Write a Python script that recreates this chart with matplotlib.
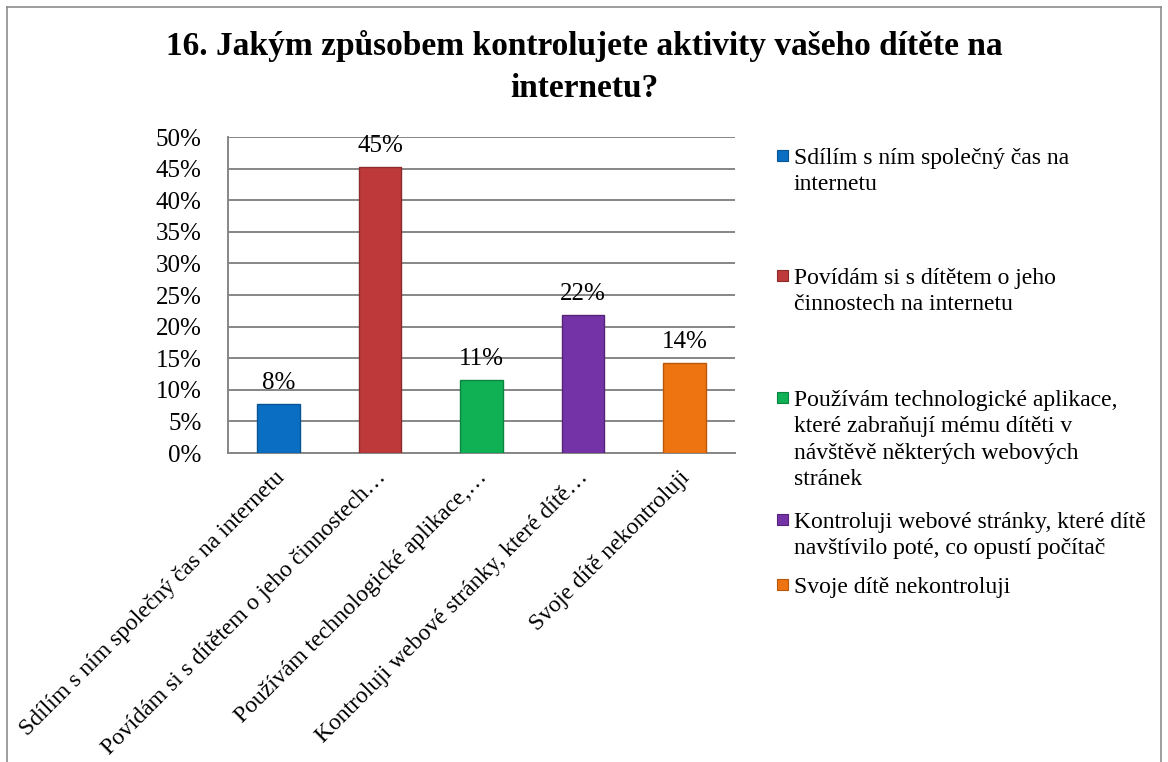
import matplotlib
matplotlib.use("Agg")
import matplotlib.pyplot as plt
import matplotlib.transforms as mtransforms
from matplotlib.patches import Rectangle
from matplotlib.lines import Line2D
from matplotlib.ticker import PercentFormatter

# data
categories = ["Sdílím s ním společný čas na internetu",
              "Povídám si s dítětem o jeho činnostech na internetu",
              "Používám technologické aplikace, které zabraňují mému dítěti v návštěvě některých webových stránek",
              "Kontroluji webové stránky, které dítě navštívilo poté, co opustí počítač",
              "Svoje dítě nekontroluji"]
tick_labels = ["Sdílím s ním společný čas na internetu",
               "Povídám si s dítětem o jeho činnostech…",
               "Používám technologické aplikace,…",
               "Kontroluji webové stránky, které dítě…",
               "Svoje dítě nekontroluji"]
legend_labels = ["Sdílím s ním společný čas na\ninternetu",
                 "Povídám si s dítětem o jeho\nčinnostech na internetu",
                 "Používám technologické aplikace,\nkteré zabraňují mému dítěti v\nnávštěvě některých webových\nstránek",
                 "Kontroluji webové stránky, které dítě\nnavštívilo poté, co opustí počítač",
                 "Svoje dítě nekontroluji"]
values = [0.078, 0.453, 0.115, 0.218, 0.142]
value_labels = ["8%", "45%", "11%", "22%", "14%"]
colors = ["#0A6FC2", "#BE3A3A", "#10B055", "#7433A6", "#EE7412"]
edge_colors = ["#075594", "#8E2A2A", "#0B8341", "#552479", "#B8580C"]

plt.rcParams['font.family'] = ['Liberation Serif', 'DejaVu Serif']

fig = plt.figure(figsize=(11.68, 7.62), dpi=100)
W, H = 1168, 762

# chart border
for xs, ys in [([7, 7], [0, 755]), ([7, 1161], [755, 755]), ([1161, 1161], [755, 0])]:
    fig.add_artist(Line2D([x / W for x in xs], [y / H for y in ys], color="#8c8c8c", lw=1.2))

ax = fig.add_axes([228 / W, 1 - 453 / H, 507 / W, 316 / H])
x = range(len(values))
bars = ax.bar(x, values, width=0.42, color=colors, edgecolor=edge_colors, linewidth=1, zorder=3)

for i, b in enumerate(bars):
    ax.text(b.get_x() + b.get_width() / 2, values[i] + 0.016, value_labels[i],
            ha="center", va="bottom", fontsize=18, zorder=4)

ax.set_xlim(-0.5, len(values) - 0.5)
ax.set_ylim(0, 0.5)
ax.set_yticks([i * 0.05 for i in range(11)])
ax.yaxis.set_major_formatter(PercentFormatter(1.0, decimals=0))
ax.grid(axis="y", color="#868686", lw=1.4, zorder=0)
ax.set_axisbelow(True)
for s in ["right", "top"]:
    ax.spines[s].set_visible(False)
for s in ["left", "bottom"]:
    ax.spines[s].set_color("#868686")
    ax.spines[s].set_linewidth(1.4)
ax.tick_params(axis="y", length=0, pad=19, labelsize=18)
ax.tick_params(axis="x", length=0, pad=10, labelsize=17)
ax.set_xticks(list(x))
ax.set_xticklabels(tick_labels, rotation=45, ha="right", rotation_mode="anchor")
shift = mtransforms.ScaledTranslation(-5 / 100, 0, fig.dpi_scale_trans)
for lbl in ax.get_xticklabels():
    lbl.set_transform(lbl.get_transform() + shift)

fig.text(584 / W, 1 - 67 / H, "16. Jakým způsobem kontrolujete aktivity vašeho dítěte na\ninternetu?",
         ha="center", va="center", fontsize=24, fontweight="bold", linespacing=1.42)

# legend drawn by hand to keep the uneven spacing of the original
legend_y = [158, 278, 400, 522, 587]
for i, lab in enumerate(legend_labels):
    y0 = legend_y[i]
    fig.add_artist(Rectangle((777 / W, 1 - (y0 + 3) / H), 11 / W, 11 / H,
                             facecolor=colors[i], edgecolor=edge_colors[i], lw=0.8))
    fig.text(794 / W, 1 - (y0 - 10) / H, lab, ha="left", va="top", fontsize=17, linespacing=1.33)

fig.savefig("out.png", dpi=100)
